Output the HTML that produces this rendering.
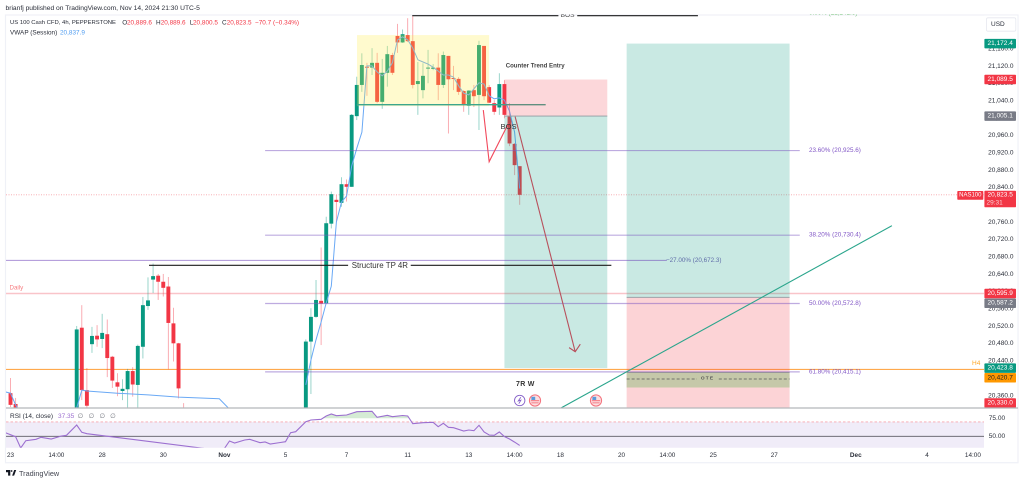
<!DOCTYPE html>
<html lang="en">
<head>
<meta charset="utf-8">
<title>US 100 Cash CFD 4h chart</title>
<style>
html,body{margin:0;padding:0;background:#fff;width:1024px;height:483px;overflow:hidden}
svg{display:block;font-family:"Liberation Sans","DejaVu Sans",sans-serif}
</style>
</head>
<body>
<svg id="chart" xmlns="http://www.w3.org/2000/svg" width="1024" height="483" viewBox="0 0 1024 483">
<defs>
<clipPath id="pane-clip"><rect x="6" y="14.5" width="978" height="393.5"/></clipPath>
<clipPath id="rsi-clip"><rect x="6" y="408.5" width="978" height="39.2"/></clipPath>
<clipPath id="rsi-over-clip"><rect x="6" y="408.5" width="978" height="9.7"/></clipPath>
</defs>
</svg>
<script>
// ---- chart data ----
const barIndex = [-13,-12,0,1,2,3,4,5,6,7,8,9,10,11,12,13,14,15,16,17,18,19,20,21,45,46,47,48,49,50,51,52,53,54,55,56,57,58,59,60,61,62,63,64,65,66,67,68,69,70,71,72,73,74,75,76,77,78,79,80,81,82,83,84,85,86,87];
const opens  = [20366,20341,20300,20517,20373,20479,20498.5,20491,20502,20450,20391,20371,20375,20417,20385,20473,20567,20628,20637,20623,20612,20527,20481,20300,20300,20485,20542,20579,20573,20757,20812,20805,20848,20842,21005,21077,21119,21117,21128,21038,21105,21146,21190,21175,21192,21178,21079,21065,21115,21114,21117,21077,21144,21093,21091,21063,21029,21065,21054,21167,21072,21035,21025,21079,21004,20941,20889.6];
const highs  = [20401,20355,20521,20569,20424,20519,20523,20549,20536,20452,20412,20398,20422,20426,20478,20588,20633,20665,20641,20641,20634,20563,20482,20343,20490,20562,20627,20702,20773,20831,20823,20864,20859,21010,21096,21150,21128,21162,21151,21137,21167,21151,21218,21205,21231,21236,21130,21127,21158,21125,21150,21154,21144,21121,21095,21065,21065,21077,21179,21167,21077,21042,21104,21088,21035,20943,20889.6];
const lows   = [20334,20309,20280,20350,20323,20459,20473,20470,20403,20378,20359,20350,20320,20358,20320,20446,20558,20597,20581,20589,20421,20439,20354,20240,20290,20364,20540,20477,20573,20746,20761,20796,20808,20842,20996,21061,21052,21100,21035,21022,21073,21100,21151,21174,21176,21069,21008,21046,21081,21111,21042,21070,20965,21065,21054,21015,21008,21026,20973,21042,21035,21008,21008,21000,20936,20869,20800.5];
const closes = [20339,20323,20513,20373,20337,20498,20490,20505,20447,20395,20381,20376,20417,20386,20475,20569,20580,20636,20623,20609,20528,20481,20377,20250,20485,20542,20581,20572.5,20758,20825,20807,20848,20842,21008,21077,21123,21117,21128,21038,21105,21148,21105,21175,21194,21178,21077,21086,21098,21117,21117,21077,21146,21090,21091,21061,21031,21064,21051,21169,21051,21036,21015,21079,21008,20942,20892,20823.5];

const vwapSessionA = [-14,-13,-12,-11];
const vwapValuesA  = [20369,20366,20339,20320];
const vwapSessionB = [-1,0,1,2,8,14,20,28,30];
const vwapValuesB  = [20304,20332,20373,20371,20366,20362,20357,20353,20329];
const vwapSessionC = [45,46,47,48,49,50,51,52,53,54,55,56,57,58,59,60,61,62,63,64,65,66,67,68,69,70,71,72,73,74,75,76,77,78,79,80,81,82,83,84,85,86,87];
const vwapValuesC  = [20385,20442,20489,20530,20574,20613,20761,20807,20821,20890,20931,20968,21121,21121,21107,21098,21109,21128,21181,21188,21181,21162,21135,21130,21125,21118,21109,21100,21100,21095,21075,21058,21054,21068,21082,21079,21052,21045,21047,21042,21017,20968,20837.9];

const rsiBars   = [-14,-12,-11,-10,-8,-7,-5,-3,-2,0,1,2,25,29,30,31,33,34,36,37,38,40,41,42,43,45,46,48,49,50,51,53,55,58,59,61,62,64,65,66,68,70,71,72,73,74,76,77,78,79,80,81,82,83,84,85,86,87];
const rsiValues = [55,49.4,33.7,43.9,45.8,48.6,46.3,50.4,51.4,65.7,55.6,53.6,33.2,33,43.5,40.7,44.9,45.8,41.1,42.1,39.3,41.4,42.5,55,56.4,70.3,72.6,73.6,78.2,81,78.6,79.6,84.2,84.7,76.4,79.2,77.2,78.9,78.2,67.5,68.9,69.4,63.3,68,62.5,61.9,57.4,58.8,57.8,65.3,56,51.8,51.4,56,49.7,46.3,42,37.35];

const priceTicks = [21160,21120,21080,21040,21000,20960,20920,20880,20840,20800,20760,20720,20680,20640,20600,20560,20520,20480,20440,20400,20360];
const rsiTicks = [75,50];
const timeLabels = ['23','14:00','28','30','Nov','5','7','11','13','14:00','18','20','14:00','25','27','Dec','4','14:00'];
const timeBars   = [-13,-4,5,17,29,41,53,65,77,86,95,107,116,125,137,153,167,176];

const fibLabels = ['23.60% (20,925.6)','38.20% (20,730.4)','50.00% (20,572.8)','61.80% (20,415.1)'];
const fibPrices = [20925.6,20730.4,20572.8,20415.1];

const axisPrices = [21172.4,21089.5,21005.1,20595.9,20587.2,20423.8,20420.7,20330.0];
const axisKinds  = ['green','red','gray','red','gray','green','orange','red'];

// ---- scales ----
const xBar = i => 76.7 + 5.092 * i;
const yPrice = p => 66.3 + (21120 - p) * 0.4335;
const yRsi = v => 436.3 - (v - 50) * 0.72;
const fmt = p => p.toLocaleString('en-US', {minimumFractionDigits:1, maximumFractionDigits:1});

const NS = 'http://www.w3.org/2000/svg';
const svg = document.getElementById('chart');
function mk(tag, attrs, parent) {
  const n = document.createElementNS(NS, tag);
  for (const k in attrs) n.setAttribute(k, attrs[k]);
  (parent || svg).appendChild(n);
  return n;
}
function txt(x, y, s, attrs, parent) {
  const n = mk('text', Object.assign({x:x, y:y, 'dominant-baseline':'central', 'font-size':6.5, fill:'#2a2e39'}, attrs), parent);
  n.textContent = s;
  return n;
}

// ---- frame ----
const frame = mk('rect', {x:5.5, y:15, width:1012.5, height:447.7, fill:'#fff', stroke:'#eff1f7', 'stroke-width':1.2});



const pane = mk('g', {'clip-path':'url(#pane-clip)'});



// ---- level lines beneath candles ----
const dailyLine = mk('line', {x1:6, x2:984, y1:yPrice(20595.9), y2:yPrice(20595.9), stroke:'#f9c4c9', 'stroke-width':1.6}, pane);


const h4Line = mk('line', {x1:6, x2:984, y1:yPrice(20420.7), y2:yPrice(20420.7), stroke:'#ffa94d', 'stroke-width':1.1}, pane);


const lastLine = mk('line', {x1:6, x2:984, y1:yPrice(20823.5), y2:yPrice(20823.5), stroke:'#f7a3aa', 'stroke-width':.8, 'stroke-dasharray':'1 1.5'}, pane);



// ---- candles ----
barIndex.forEach((b, i) => {
  const up = closes[i] >= opens[i];
  const col = up ? '#089981' : '#f23645';
  const x = xBar(b);
  const g = mk('g', {}, pane);
  
  
  mk('line', {x1:x, x2:x, y1:yPrice(highs[i]), y2:yPrice(lows[i]), stroke:col, 'stroke-width':.9, opacity:.45}, g);
  const top = yPrice(Math.max(opens[i], closes[i]));
  const bot = yPrice(Math.min(opens[i], closes[i]));
  mk('rect', {x:x - 1.95, y:top, width:3.9, height:Math.max(bot - top, 1), fill:col}, g);
});

// ---- VWAP ----
[[vwapSessionA, vwapValuesA], [vwapSessionB, vwapValuesB], [vwapSessionC, vwapValuesC]].forEach(s => {
  const pts = s[0].map((b, i) => xBar(b).toFixed(1) + ',' + yPrice(s[1][i]).toFixed(1)).join(' ');
  const l = mk('polyline', {points:pts, fill:'none', stroke:'#6aa9f5', 'stroke-width':1}, pane);
  
  
});

// ---- drawings ----
const yellowBox = mk('rect', {x:xBar(55.05), y:yPrice(21192), width:xBar(81) - xBar(55.05), height:yPrice(21028) - yPrice(21192), fill:'rgba(255,235,59,.25)'}, pane);



const rangeLine = mk('line', {x1:xBar(55), x2:xBar(92.1), y1:yPrice(21031.5), y2:yPrice(21031.5), stroke:'#3ca68e', 'stroke-width':1.3}, pane);



// short position
const sx1 = xBar(84), sx2 = xBar(104.2);
const shortStop = mk('rect', {x:sx1, y:yPrice(21089.5), width:sx2 - sx1, height:yPrice(21005.1) - yPrice(21089.5), fill:'rgba(242,54,69,.2)'}, pane);


const shortTarget = mk('rect', {x:sx1, y:yPrice(21005.1), width:sx2 - sx1, height:yPrice(20423.8) - yPrice(21005.1), fill:'rgba(8,153,129,.22)'}, pane);


const shortEntry = mk('line', {x1:sx1, x2:sx2, y1:yPrice(21005.1), y2:yPrice(21005.1), stroke:'#8f9aa0', 'stroke-width':.9}, pane);



// long position
const lx1 = xBar(108), lx2 = xBar(140);
const longTarget = mk('rect', {x:lx1, y:yPrice(21172.4), width:lx2 - lx1, height:yPrice(20587.2) - yPrice(21172.4), fill:'rgba(8,153,129,.22)'}, pane);


const longStop = mk('rect', {x:lx1, y:yPrice(20587.2), width:lx2 - lx1, height:yPrice(20330) - yPrice(20587.2), fill:'rgba(242,54,69,.22)'}, pane);


const longEntry = mk('line', {x1:lx1, x2:lx2, y1:yPrice(20587.2), y2:yPrice(20587.2), stroke:'#8f9aa0', 'stroke-width':.9}, pane);



// OTE
const oteBox = mk('rect', {x:lx1, y:yPrice(20413.8), width:lx2 - lx1, height:yPrice(20379) - yPrice(20413.8), fill:'#c5c8a9'}, pane);


const oteTop = mk('line', {x1:lx1, x2:lx2, y1:yPrice(20413.8), y2:yPrice(20413.8), stroke:'#9aa08a', 'stroke-width':.8}, pane);


const oteMidL = mk('line', {x1:lx1, x2:xBar(121.8), y1:yPrice(20398.6), y2:yPrice(20398.6), stroke:'#555', 'stroke-width':.8, 'stroke-dasharray':'3 2'}, pane);


const oteMidR = mk('line', {x1:xBar(126.1), x2:lx2, y1:yPrice(20398.6), y2:yPrice(20398.6), stroke:'#555', 'stroke-width':.8, 'stroke-dasharray':'3 2'}, pane);


const oteText = txt(xBar(123.9), yPrice(20398.6), 'OTE', {'font-size':4.8, 'text-anchor':'middle', 'letter-spacing':1.2, 'font-weight':'bold', fill:'#555'}, pane);



// Fibonacci
fibPrices.forEach((p, i) => {
  const l = mk('line', {x1:xBar(37), x2:xBar(142), y1:yPrice(p), y2:yPrice(p), stroke:'rgba(126,87,194,.5)', 'stroke-width':1.2}, pane);
  
  
  const t = txt(809, yPrice(p), fibLabels[i], {fill:'#8257c6', 'font-size':6.3}, pane);
  
  
});
const fibExt = mk('line', {x1:6, x2:xBar(115.9), y1:yPrice(20672.3), y2:yPrice(20672.3), stroke:'rgba(103,58,183,.55)', 'stroke-width':1}, pane);


const fibExtText = txt(666, yPrice(20672.3), '\u221227.00% (20,672.3)', {fill:'#5f6ca8', 'font-size':6.3}, pane);


const fibTop = txt(809, yPrice(21241.6), '0.00% (21,241.6)', {fill:'#66bb6a', 'font-size':6.3}, pane);



// Structure TP line
const tpL = mk('line', {x1:xBar(14.2), x2:xBar(53.3), y1:yPrice(20661), y2:yPrice(20661), stroke:'#1c1c1c', 'stroke-width':1.1}, pane);


const tpR = mk('line', {x1:xBar(65.6), x2:xBar(105), y1:yPrice(20661), y2:yPrice(20661), stroke:'#1c1c1c', 'stroke-width':1.1}, pane);


const tpText = txt(351.7, yPrice(20661), 'Structure TP 4R', {'font-size':7.9, fill:'#333'}, pane);



// BOS top line
const bosL = mk('line', {x1:xBar(65.9), x2:xBar(94.6), y1:yPrice(21236.8), y2:yPrice(21236.8), stroke:'#1c1c1c', 'stroke-width':1.1}, pane);


const bosR = mk('line', {x1:xBar(98.3), x2:xBar(122), y1:yPrice(21236.8), y2:yPrice(21236.8), stroke:'#1c1c1c', 'stroke-width':1.1}, pane);


const bosTop = txt(xBar(96.4), yPrice(21236.8), 'BOS', {'text-anchor':'middle', 'font-size':6.6, fill:'#444'}, pane);



// Trend line
const trend = mk('line', {x1:xBar(95.1), y1:yPrice(20331.7), x2:xBar(160.1), y2:yPrice(20752.3), stroke:'#2aa58c', 'stroke-width':1.1}, pane);



// Zig-zag
const zigBars = [79.85, 81, 84.8];
const zigPrices = [21019, 20900, 20988.5];
const zig = mk('polyline', {points:zigBars.map((b, i) => xBar(b) + ',' + yPrice(zigPrices[i])).join(' '), fill:'none', stroke:'#f2495c', 'stroke-width':1.1}, pane);



// Arrow
const arrowLine = mk('line', {x1:xBar(86.1), y1:yPrice(21004), x2:xBar(97.9), y2:yPrice(20461.6), stroke:'#b8505c', 'stroke-width':1.1}, pane);


const arrowHead = mk('polyline', {points:xBar(96.7) + ',' + yPrice(20471) + ' ' + xBar(97.9) + ',' + yPrice(20461.6) + ' ' + xBar(98.9) + ',' + yPrice(20479), fill:'none', stroke:'#b8505c', 'stroke-width':1.1}, pane);



// Annotations
const cte = txt(505.7, 66, 'Counter Trend Entry', {'font-size':6.1, 'font-weight':'bold', fill:'#444'}, pane);


const bosMid = txt(500.5, 126.5, 'BOS', {'font-size':7.6, fill:'#333'}, pane);


const r7 = txt(516, 384.5, '7R W', {'font-size':7, 'font-weight':'bold', fill:'#333', 'letter-spacing':.3}, pane);


const dailyText = txt(9.5, 288, 'Daily', {'font-size':6.2, fill:'#f77c80'}, pane);


const h4Text = txt(972, 363.3, 'H4', {'font-size':6.5, fill:'#ffa726'}, pane);


const nasLabel = mk('rect', {x:957.3, y:191, width:26, height:8.8, fill:'#f23645', rx:.8}, pane);


const nasText = txt(970.3, 195.4, 'NAS100', {'font-size':6, fill:'#fff', 'text-anchor':'middle'}, pane);



// Event icons
const bolt = mk('g', {}, pane);


mk('circle', {cx:519.7, cy:400.5, r:5.2, fill:'#fff', stroke:'#8560c8', 'stroke-width':.9}, bolt);
mk('polyline', {points:'520.8,397.3 518.3,401 520.9,400.2 518.8,403.7', fill:'none', stroke:'#8560c8', 'stroke-width':.9}, bolt);
[535, 596].forEach(cx => {
  const flag = mk('g', {}, pane);
  
  
  mk('circle', {cx:cx, cy:400.5, r:5.6, fill:'#fbdfe1', stroke:'#f4727d', 'stroke-width':1}, flag);
  mk('rect', {x:cx - 3.6, y:396.8, width:3.8, height:3.2, fill:'#5b9bdc'}, flag);
  mk('rect', {x:cx - 4.2, y:400.2, width:8.4, height:1, fill:'#f4727d'}, flag);
  mk('rect', {x:cx - 3.6, y:402.4, width:7.2, height:.9, fill:'#f4727d'}, flag);
});

// ---- price axis ----
const axisBg = mk('rect', {x:984.3, y:15.6, width:33, height:392.2, fill:'#fff'});


priceTicks.forEach(p => {
  const t = txt(1000.8, yPrice(p), p.toLocaleString('en-US', {minimumFractionDigits:1}), {'text-anchor':'middle'});
  
  
});
// label stacking: keep labels readable by pushing overlapping ones apart
const labelGap = 9.7;
const labelColors = {green:['#089981','#fff'], red:['#f23645','#fff'], gray:['#787b86','#fff'], orange:['#ff9800','#222']};
const labelOrder = axisPrices.map((p, i) => i).sort((a, b) => axisPrices[b] - axisPrices[a]);
const labelY = {};
let prevY = -100;
labelOrder.forEach(i => {
  let y = Math.max(yPrice(axisPrices[i]), prevY + labelGap);
  if (y > 403) y = 403;
  labelY[i] = y;
  prevY = y;
});
axisPrices.forEach((p, i) => {
  const c = labelColors[axisKinds[i]];
  const r = mk('rect', {x:984.4, y:labelY[i] - 4.75, width:31.6, height:9.5, rx:.8, fill:c[0]});
  
  
  const t = txt(1000.2, labelY[i], fmt(p), {'text-anchor':'middle', fill:c[1]});
  
  
});
const curBox = mk('rect', {x:984.4, y:190.7, width:31.6, height:16.6, rx:.8, fill:'#f23645'});


const curText = txt(1000.2, 195, fmt(closes[closes.length - 1]), {'text-anchor':'middle', fill:'#fff'});


const curCount = txt(986.5, 203, '29:31', {fill:'#fbd0d4'});


const usdBtn = mk('rect', {x:986.5, y:17.8, width:29.3, height:13.4, rx:1.5, fill:'#fff', stroke:'#e6e8ef', 'stroke-width':.8});


const usdText = txt(991, 24.4, 'USD', {});



// ---- RSI pane ----
const sep = mk('line', {x1:6, x2:1018, y1:408, y2:408, stroke:'#b5b6bb', 'stroke-width':1.3});


const rsiPane = mk('g', {'clip-path':'url(#rsi-clip)'});


const band = mk('rect', {x:6, y:yRsi(70), width:978, height:yRsi(30) - yRsi(70), fill:'#f0ecf8'}, rsiPane);


const over = mk('polygon', {points:rsiBars.map((b, i) => xBar(b).toFixed(1) + ',' + yRsi(rsiValues[i]).toFixed(1)).join(' ') + ' ' + xBar(87) + ',' + yRsi(70) + ' ' + xBar(-14) + ',' + yRsi(70), fill:'#d5ebd5', 'clip-path':'url(#rsi-over-clip)'}, rsiPane);


const upper = mk('line', {x1:6, x2:984, y1:yRsi(70), y2:yRsi(70), stroke:'#f7a6ad', 'stroke-width':.9, 'stroke-dasharray':'2.5 2'}, rsiPane);


const mid = mk('line', {x1:6, x2:984, y1:yRsi(50), y2:yRsi(50), stroke:'#5a5a62', 'stroke-width':.9}, rsiPane);


const rsiLine = mk('polyline', {points:rsiBars.map((b, i) => xBar(b).toFixed(1) + ',' + yRsi(rsiValues[i]).toFixed(1)).join(' '), fill:'none', stroke:'#9c6fd0', 'stroke-width':1.1}, rsiPane);


rsiTicks.forEach(v => {
  const t = txt(988.8, yRsi(v), v.toFixed(2), {});
  
  
});
const rsiLabel = txt(10, 416.3, 'RSI (14, close)', {});


const rsiVal = txt(58, 416.3, '37.35', {fill:'#9c6fd0'});


[80.5, 91.5, 102.3, 113].forEach(x => {
  const t = txt(x, 416.3, '\u2205', {fill:'#70737c', 'text-anchor':'middle'});
  
  
});

// ---- time axis ----
timeLabels.forEach((s, i) => {
  const bold = s === 'Nov' || s === 'Dec';
  const t = txt(xBar(timeBars[i]), 455.6, s, {'text-anchor':'middle', 'font-weight':bold ? 'bold' : 'normal', 'font-size':6.4});
  
  
});

// ---- header ----
const pub = txt(5.5, 8.3, 'brianfj published on TradingView.com, Nov 14, 2024 21:30 UTC-5', {'font-size':6.7});


const sym = txt(10, 23.2, 'US 100 Cash CFD, 4h, PEPPERSTONE', {'font-size':5.9});


const ohlcKeys = ['O', 'H', 'L', 'C'];
const ohlcVals = ['20,889.6', '20,889.6', '20,800.5', '20,823.5'];
const ohlcKeyX = [122.3, 156, 189.8, 222];
const ohlcValX = [127, 160.7, 193, 226.7];
ohlcKeys.forEach((k, i) => {
  const a = txt(ohlcKeyX[i], 23.2, k, {'font-size':6.4});
  
  
  const b = txt(ohlcValX[i], 23.2, ohlcVals[i], {'font-size':6.4, fill:'#f23645'});
  
  
});
const chg = txt(255, 23.2, '\u221270.7 (\u22120.34%)', {'font-size':6.4, fill:'#f23645'});


const vw = txt(10, 33, 'VWAP (Session)', {'font-size':6.4});


const vwv = txt(60, 33, '20,837.9', {'font-size':6.4, fill:'#4f9cf0'});



// ---- footer ----
const logo = mk('g', {fill:'#131722'});


mk('path', {d:'M6 470h4.3v5.6H8.1v-3.4H6z'}, logo);
mk('path', {d:'M14.2 470h2l-2.1 5.6h-2z'}, logo);
mk('circle', {cx:11.6, cy:471, r:.9}, logo);
const brand = txt(19, 473.3, 'TradingView', {'font-size':7.3, fill:'#434651'});


</script>
</body>
</html>
